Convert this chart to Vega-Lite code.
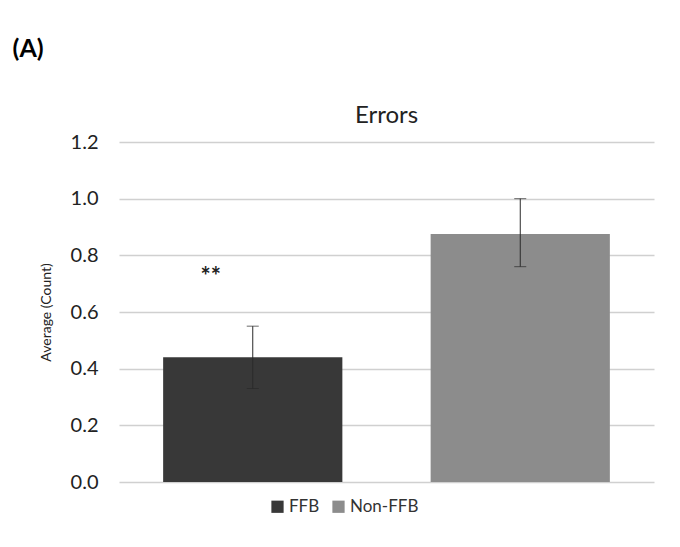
{
  "$schema": "https://vega.github.io/schema/vega-lite/v6.json",
  "background": "white",
  "padding": {"left": 12, "top": 36, "right": 20, "bottom": 20},
  "title": {"text": "(A)", "anchor": "start", "fontSize": 25, "fontWeight": "bold", "font": "Lato", "color": "black", "offset": 42, "dx": -26},
  "config": {"view": {"stroke": "transparent"}, "font": "Lato"},
  "data": {
    "values": [
      {"group": "FFB", "mean": 0.44, "lo": 0.33, "hi": 0.55, "sig": "**"},
      {"group": "Non-FFB", "mean": 0.875, "lo": 0.76, "hi": 1.0, "sig": ""}
    ]
  },
  "vconcat": [
    {
      "width": 535,
      "height": 340,
      "title": {"text": "Errors", "fontSize": 24, "fontWeight": "normal", "color": "#222", "offset": 4},
      "encoding": {
        "x": {"field": "group", "type": "nominal", "sort": ["FFB", "Non-FFB"], "scale": {"paddingInner": 0.33, "paddingOuter": 0.165}, "axis": null}
      },
      "layer": [
        {
          "mark": {"type": "bar"},
          "encoding": {
            "y": {
              "field": "mean", "type": "quantitative",
              "scale": {"domain": [0, 1.2]},
              "title": "Average (Count)",
              "axis": {"values": [0, 0.2, 0.4, 0.6, 0.8, 1.0, 1.2], "format": ".1f", "domain": false, "ticks": false, "labelPadding": 21, "labelFontSize": 20, "labelColor": "#222", "titleFontSize": 14, "titleFontWeight": "normal", "titleColor": "#222", "titlePadding": 17, "gridColor": "#d0d0d0", "gridWidth": 1.5}
            },
            "color": {
              "field": "group", "type": "nominal",
              "scale": {"domain": ["FFB", "Non-FFB"], "range": ["#383838", "#8c8c8c"]},
              "legend": {"orient": "none", "legendX": 150, "legendY": 356, "direction": "horizontal", "title": null, "symbolType": "square", "symbolSize": 150, "symbolStrokeWidth": 0, "labelFontSize": 17, "labelColor": "#333", "columnPadding": 10, "labelOffset": 3}
            }
          }
        },
        {
          "mark": {"type": "errorbar", "ticks": {"size": 12, "color": "#2a2a2a"}, "rule": {"color": "#2a2a2a"}},
          "encoding": {
            "y": {"field": "lo", "type": "quantitative", "title": "Average (Count)"},
            "y2": {"field": "hi"}
          }
        },
        {
          "mark": {"type": "text", "fontSize": 24, "fontWeight": "bold", "dx": -42, "dy": 8, "color": "#222"},
          "encoding": {
            "y": {"datum": 0.75, "type": "quantitative"},
            "text": {"field": "sig"}
          }
        }
      ]
    }
  ]
}
